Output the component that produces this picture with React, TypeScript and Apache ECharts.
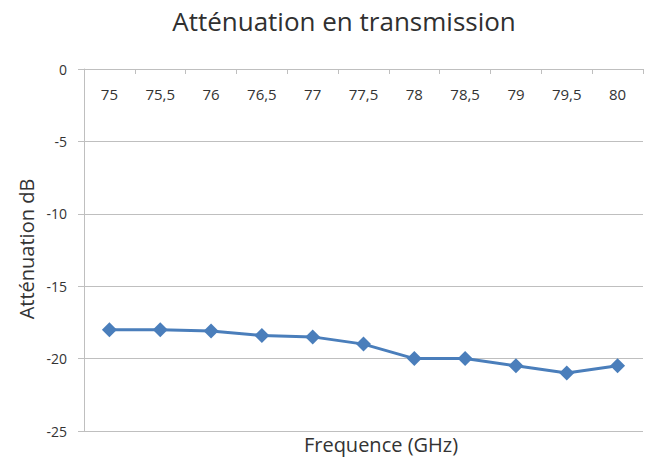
import React, { useEffect, useRef } from "react";
import * as echarts from "echarts";

const categories = ["75", "75,5", "76", "76,5", "77", "77,5", "78", "78,5", "79", "79,5", "80"];
const attenuation = [-18, -18, -18.1, -18.4, -18.5, -19, -20, -20, -20.5, -21, -20.5];
const titleText = "Atténuation en transmission";
const xName = "Frequence (GHz)";
const yName = "Atténuation dB";

const FONT = "'Open Sans', 'Noto Sans', sans-serif";

export default function App() {
  const ref = useRef<HTMLDivElement>(null);
  useEffect(() => {
    if (!ref.current) return;
    const chart = echarts.init(ref.current, undefined, { renderer: "svg" });
    chart.setOption({
      animation: false,
      backgroundColor: "#ffffff",
      title: {
        text: titleText,
        left: 339,
        textAlign: "center",
        top: 3,
        textStyle: { fontFamily: FONT, fontSize: 26, fontWeight: "normal", color: "#303030" },
      },
      grid: { left: 84, right: 10, top: 69, bottom: 28 },
      xAxis: {
        type: "category",
        data: categories,
        position: "top",
        boundaryGap: true,
        axisLine: { show: true, lineStyle: { color: "#bfbfbf", width: 1 } },
        axisTick: { show: true, inside: true, length: 5, lineStyle: { color: "#bfbfbf" } },
        axisLabel: {
          inside: true,
          margin: 17,
          fontFamily: FONT,
          fontSize: 15,
          color: "#333333",
        },
        splitLine: { show: false },
      },
      yAxis: {
        type: "value",
        min: -25,
        max: 0,
        interval: 5,
        axisLine: { show: true, lineStyle: { color: "#bfbfbf", width: 1 } },
        axisTick: { show: true, length: 6, lineStyle: { color: "#bfbfbf" } },
        axisLabel: { margin: 17, fontFamily: FONT, fontSize: 14, color: "#333333" },
        splitLine: { show: true, lineStyle: { color: "#bfbfbf", width: 1 } },
      },
      graphic: [
        {
          type: "text",
          x: 381,
          y: 444,
          style: {
            text: xName,
            fontFamily: FONT,
            fontSize: 20,
            fill: "#333333",
            align: "center",
            verticalAlign: "middle",
          },
        },
        {
          type: "text",
          x: 26,
          y: 249,
          rotation: Math.PI / 2,
          style: {
            text: yName,
            fontFamily: FONT,
            fontSize: 20,
            fill: "#333333",
            align: "center",
            verticalAlign: "middle",
          },
        },
      ],
      series: [
        {
          type: "line",
          data: attenuation,
          symbol: "diamond",
          symbolSize: 15,
          lineStyle: { color: "#4a7ebb", width: 3 },
          itemStyle: { color: "#4a7ebb" },
        },
      ],
    });
    return () => chart.dispose();
  }, []);
  return (
    <div
      ref={ref}
      style={{ position: "fixed", left: 0, top: 0, width: 653, height: 459 }}
    />
  );
}
